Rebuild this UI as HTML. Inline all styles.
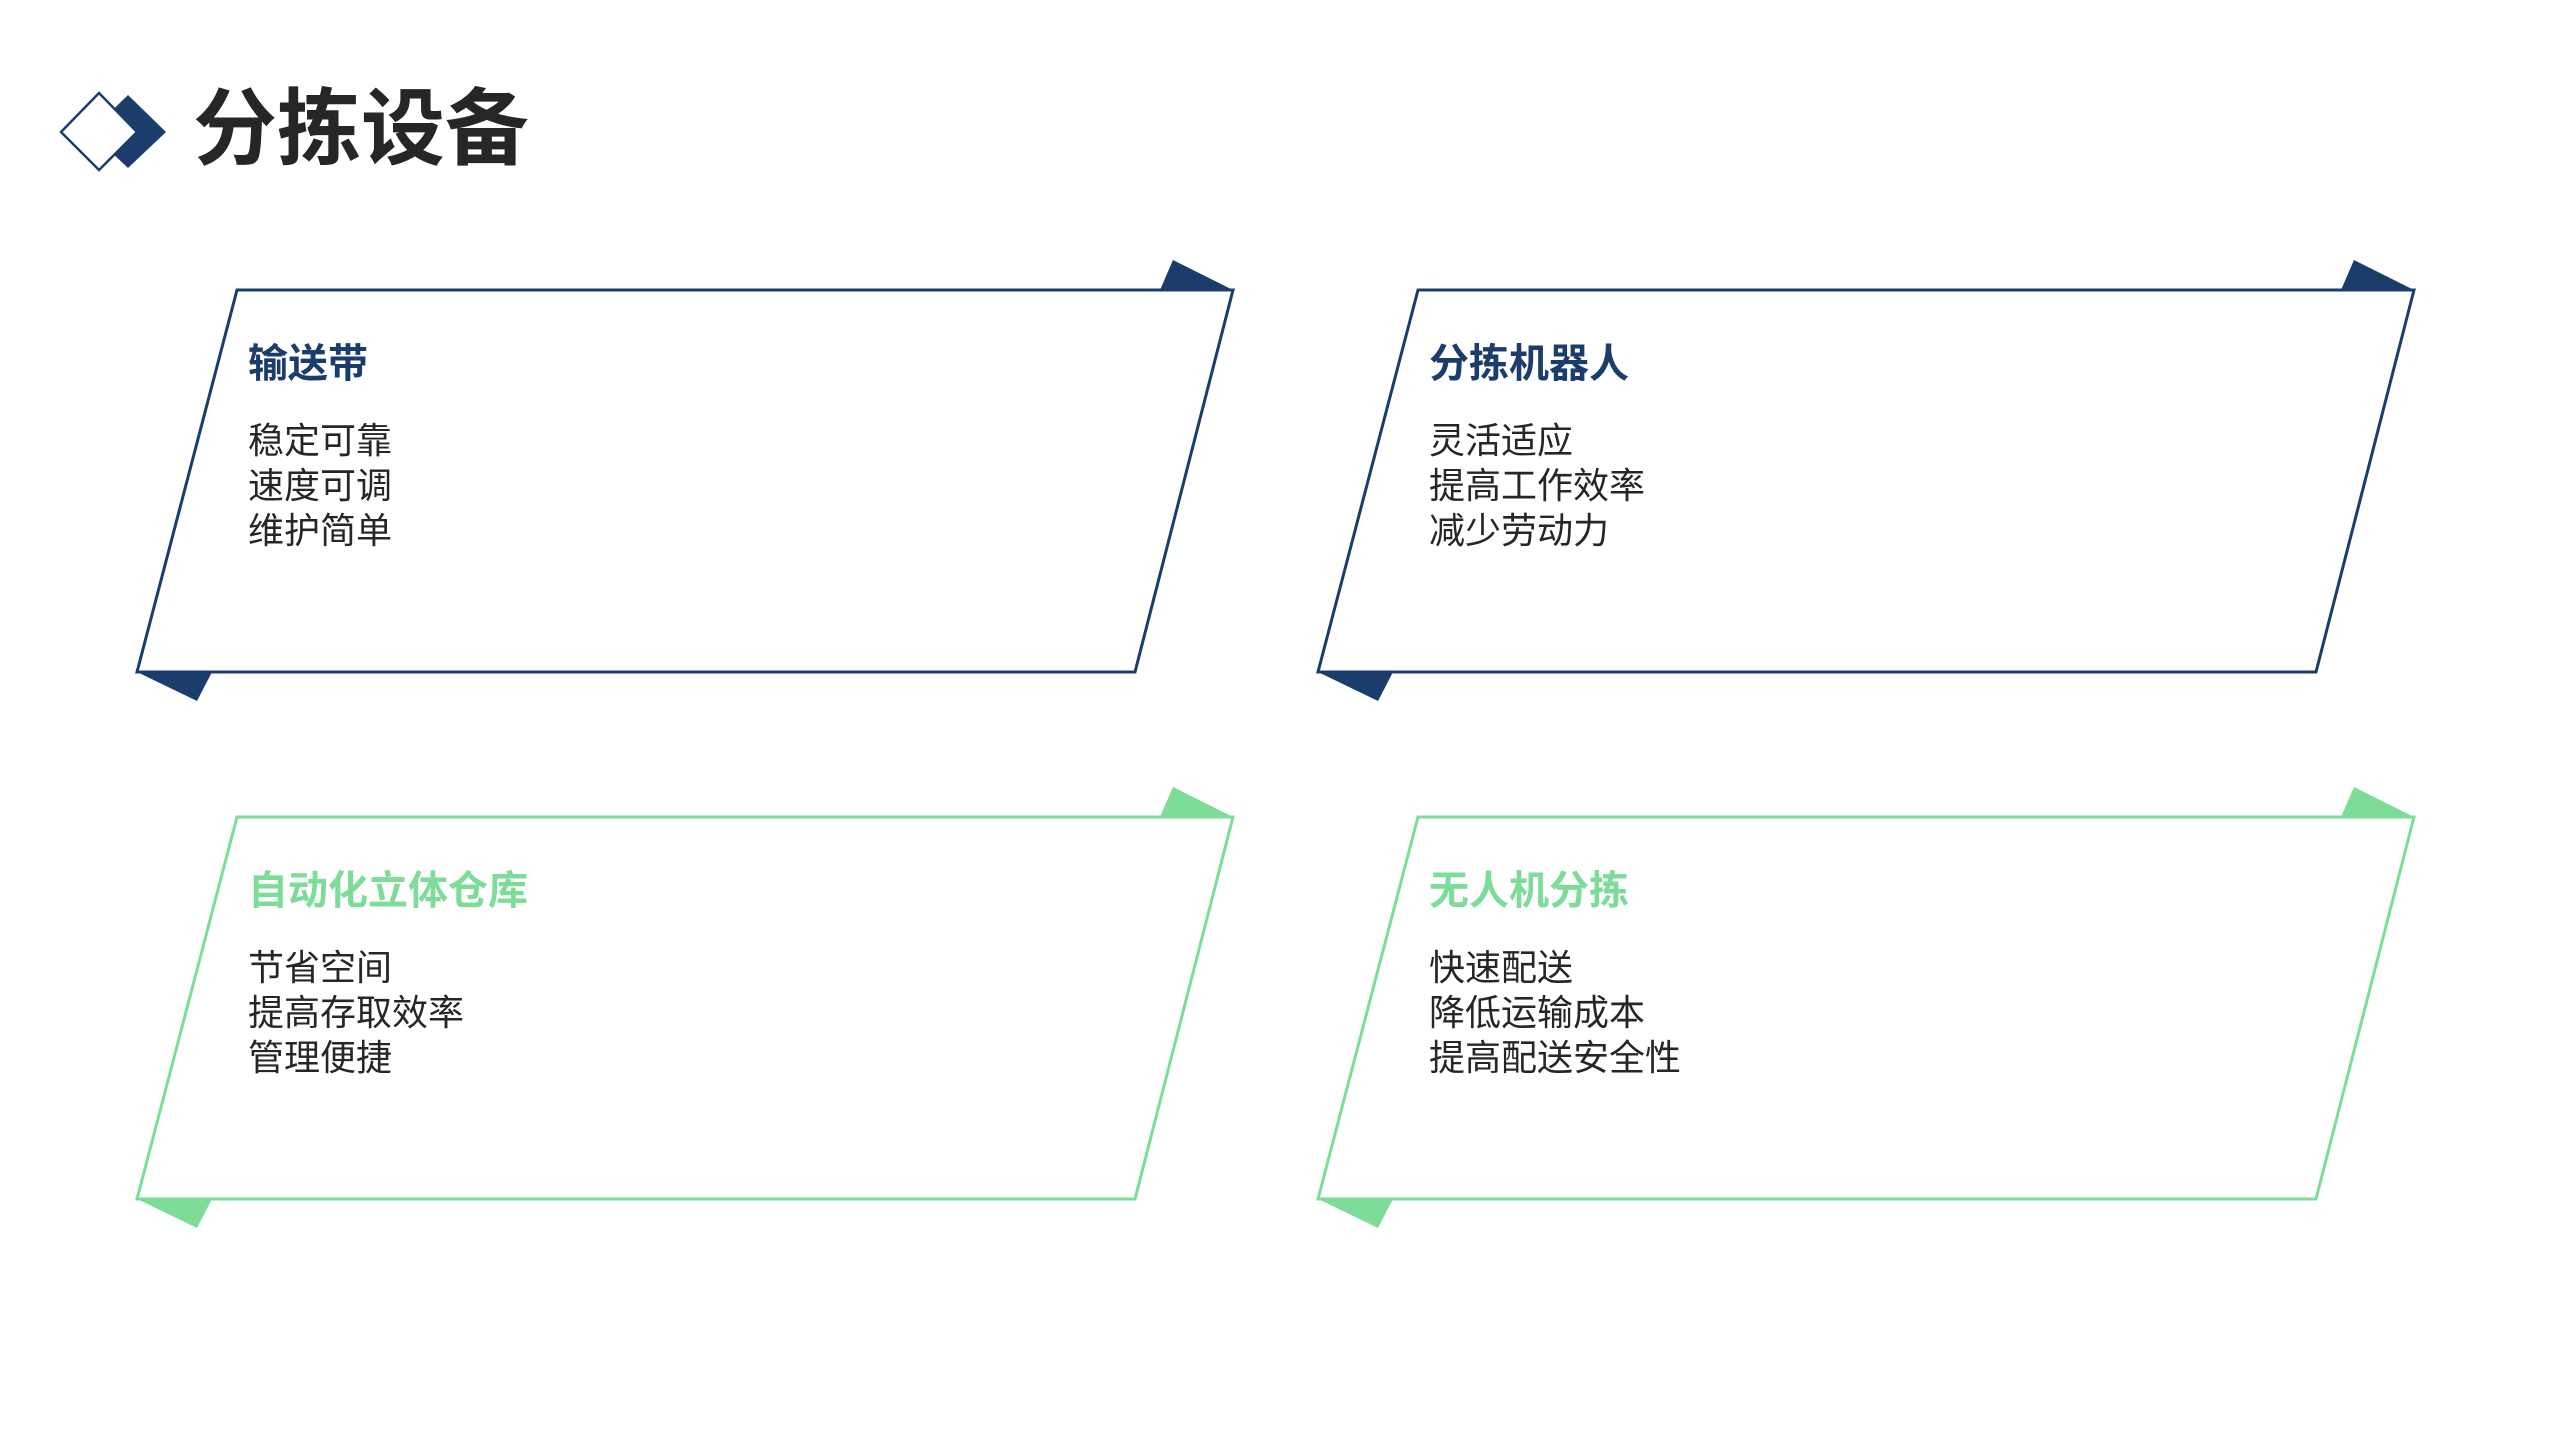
<!DOCTYPE html>
<html><head><meta charset="utf-8"><style>
html,body{margin:0;padding:0;background:#fff}
svg{display:block}
text{font-family:"Liberation Sans","Noto Sans CJK SC",sans-serif}
</style></head><body>
<svg width="2560" height="1440" viewBox="0 0 2560 1440" xmlns="http://www.w3.org/2000/svg">
<rect width="2560" height="1440" fill="#fff"/>
<polygon points="128,95 166,132 128,168 90,132" fill="#1b3d6b"/>
<polygon points="99,93 137,132 99,170 61,132" fill="#fff" stroke="#1b3d6b" stroke-width="2.5"/>
<text x="193" y="158" font-size="84" font-weight="bold" fill="#262626">分拣设备</text>

<defs>
<g id="card">
<polygon points="1160,290 1173,260 1233,290" />
<polygon points="137,672 212,672 197,701" />
</g>
</defs>

<!-- card 1 -->
<g fill="#1b3d6b"><use href="#card"/></g>
<polygon points="237,290 1233,290 1135,672 137,672" fill="#fff" stroke="#1b3d6b" stroke-width="3"/>
<text x="248" y="377" font-size="40" font-weight="bold" fill="#1b3d6b">输送带</text>
<g font-size="36" fill="#262626"><text x="248" y="453">稳定可靠</text><text x="248" y="498">速度可调</text><text x="248" y="543">维护简单</text></g>

<!-- card 2 -->
<g fill="#1b3d6b" transform="translate(1181,0)"><use href="#card"/></g>
<polygon points="1418,290 2414,290 2316,672 1318,672" fill="#fff" stroke="#1b3d6b" stroke-width="3"/>
<text x="1429" y="377" font-size="40" font-weight="bold" fill="#1b3d6b">分拣机器人</text>
<g font-size="36" fill="#262626"><text x="1429" y="453">灵活适应</text><text x="1429" y="498">提高工作效率</text><text x="1429" y="543">减少劳动力</text></g>

<!-- card 3 -->
<g fill="#7ddc98" transform="translate(0,527)"><use href="#card"/></g>
<polygon points="237,817 1233,817 1135,1199 137,1199" fill="#fff" stroke="#7ddc98" stroke-width="3"/>
<text x="248" y="904" font-size="40" font-weight="bold" fill="#7ddc98">自动化立体仓库</text>
<g font-size="36" fill="#262626"><text x="248" y="980">节省空间</text><text x="248" y="1025">提高存取效率</text><text x="248" y="1070">管理便捷</text></g>

<!-- card 4 -->
<g fill="#7ddc98" transform="translate(1181,527)"><use href="#card"/></g>
<polygon points="1418,817 2414,817 2316,1199 1318,1199" fill="#fff" stroke="#7ddc98" stroke-width="3"/>
<text x="1429" y="904" font-size="40" font-weight="bold" fill="#7ddc98">无人机分拣</text>
<g font-size="36" fill="#262626"><text x="1429" y="980">快速配送</text><text x="1429" y="1025">降低运输成本</text><text x="1429" y="1070">提高配送安全性</text></g>
</svg>
</body></html>
